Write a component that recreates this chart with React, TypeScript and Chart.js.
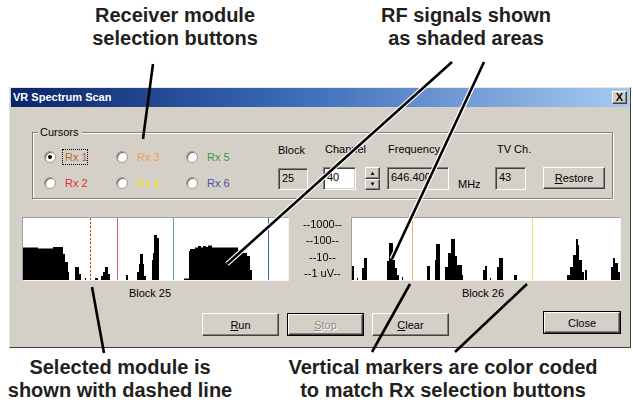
import React, { useEffect, useRef } from "react";
import { Chart, registerables } from "chart.js";

Chart.register(...registerables);

// ---------------- data ----------------
const BLOCK_LABELS = ["Block 25", "Block 26"];
const BLOCK25_SPAN = 265;
const BLOCK26_SPAN = 268;
const NOISE_FLOOR = -8;

// spectrum levels in dBµV, each level holds from its step until the next step
const BLOCK25_STEP = [0, 15, 30, 40, 42, 45, 46, 52, 56, 58, 62, 63, 72, 75, 78, 80, 82, 85, 87, 103, 105, 114, 116, 117, 120, 121, 123, 129, 130, 131, 134, 136, 161, 166, 167, 172, 175, 178, 180, 183, 185, 189, 215, 220, 224, 227, 229, 265];
const BLOCK25_DBUV = [32.4, 31.2, 33.1, 24.5, 14.7, 2.4, NOISE_FLOOR, 8.6, 0, NOISE_FLOOR, -4.9, NOISE_FLOOR, -4.9, NOISE_FLOOR, -2.4, 2.4, 8.6, 0, NOISE_FLOOR, -1.2, NOISE_FLOOR, 2.4, 12.2, 24.5, 12.2, -2.4, NOISE_FLOOR, 17.1, 25.7, 47.8, 44.1, NOISE_FLOOR, -5.5, 28.2, 30.6, 32.4, 34.3, 32.4, 34.3, 33.1, 34.9, 32.4, 29.4, 25.7, 22, 4.9, NOISE_FLOOR, NOISE_FLOOR];

const BLOCK26_STEP = [0, 2, 5, 6, 10, 12, 15, 35, 37, 41, 43, 45, 47, 50, 51, 75, 78, 83, 84, 88, 93, 96, 99, 103, 105, 110, 111, 131, 133, 135, 138, 139, 145, 147, 151, 162, 165, 215, 218, 221, 224, 226, 227, 230, 232, 233, 235, 259, 261, 263, 266, 268];
const BLOCK26_DBUV = [9.8, NOISE_FLOOR, -4.9, NOISE_FLOOR, 7.3, 19.6, NOISE_FLOOR, 15.9, 38, 17.1, 7.3, -1.2, NOISE_FLOOR, -3.7, NOISE_FLOOR, 9.8, NOISE_FLOOR, 17.1, 36.7, NOISE_FLOOR, 8.6, 25.7, 42.9, 22, 11, -1.2, NOISE_FLOOR, 4.9, 9.8, NOISE_FLOOR, -4.9, NOISE_FLOOR, 8.6, 19.6, NOISE_FLOOR, -1.2, NOISE_FLOOR, -1.2, 8.6, 23.3, 42.9, 35.5, 17.1, 2.4, NOISE_FLOOR, 4.9, NOISE_FLOOR, 8.6, 19.6, 13.5, 2.4, 2.4];

const LEVEL_MIN = -7.35;
const LEVEL_MAX = 68.6;
const LEVEL_TICKS = [60, 40, 20, 0];
const LEVEL_TICK_LABELS = ["--1000--", "--100--", "--10--", "--1 uV--"];

const RX_NAMES = ["Rx 1", "Rx 2", "Rx 3", "Rx 4", "Rx 5", "Rx 6"];
const RX_TEXT_COLORS = ["#b8692a", "#e0302c", "#f0a050", "#f2e21a", "#2f9e3c", "#4a52a0"];
const RX_MARKER_COLORS = ["#a8581c", "#e06060", "#f2b070", "#ece070", "#50b070", "#4060b0"];
const SELECTED_RX = 0;

const BLOCK25_MARKER_RX = [0, 1, 4, 5];
const BLOCK25_MARKER_STEP = [66.7, 94, 150, 244.5];
const BLOCK26_MARKER_RX = [2, 3];
const BLOCK26_MARKER_STEP = [59.7, 179.7];

const BLOCK_VALUE = "25";
const CHANNEL_VALUE = "40";
const FREQUENCY_VALUE = "646.400";
const TV_CHANNEL_VALUE = "43";

// ---------------- styles ----------------
const UI_FONT = '"Liberation Sans", Arial, sans-serif';
const FACE = "#d4d0c8";

const abs = (l: number, t: number, w?: number, h?: number): React.CSSProperties => ({
  position: "absolute",
  left: l,
  top: t,
  width: w,
  height: h,
  boxSizing: "border-box",
});

const sunken: React.CSSProperties = {
  borderTop: "1px solid #808080",
  borderLeft: "1px solid #808080",
  borderRight: "1px solid #ffffff",
  borderBottom: "1px solid #ffffff",
  boxShadow: "inset 1px 1px 0 #404040, inset -1px -1px 0 " + FACE,
};

const raised: React.CSSProperties = {
  borderTop: "1px solid #ffffff",
  borderLeft: "1px solid #ffffff",
  borderRight: "1px solid #404040",
  borderBottom: "1px solid #404040",
  boxShadow: "inset -1px -1px 0 #808080",
  background: FACE,
};

function Label({ x, y, children, color, center, size }: any) {
  return (
    <div
      style={{
        position: "absolute",
        left: center ? x - 100 : x,
        top: y - 7,
        width: center ? 200 : undefined,
        textAlign: center ? "center" : "left",
        lineHeight: "14px",
        fontSize: size || 11,
        fontFamily: UI_FONT,
        color: color || "#000",
        whiteSpace: "nowrap",
      }}
    >
      {children}
    </div>
  );
}

function Radio({ cx, cy, checked }: any) {
  return (
    <div
      style={{
        ...abs(cx - 6, cy - 6, 12, 12),
        borderRadius: "50%",
        background: "#fff",
        border: "1px solid #9a9890",
        boxShadow: "inset 1px 1px 0 #6a6864",
      }}
    >
      {checked && (
        <div style={{ ...abs(3, 3, 4, 4), borderRadius: "50%", background: "#000" }} />
      )}
    </div>
  );
}

function Button({ l, t, w, h, label, ul, focus, disabled }: any) {
  const text = (
    <span>
      {ul ? <u>{label[0]}</u> : label[0]}
      {label.slice(1)}
    </span>
  );
  return (
    <div
      style={{
        ...abs(l, t, w, h),
        ...(focus ? { border: "1px solid #000", background: FACE } : {}),
      }}
    >
      <div
        style={{
          ...abs(0, 0, focus ? w - 2 : w, focus ? h - 2 : h),
          ...raised,
          display: "flex",
          alignItems: "center",
          justifyContent: "center",
          fontFamily: UI_FONT,
          fontSize: 11,
          color: disabled ? "#8c8a84" : "#000",
          textShadow: disabled ? "1px 1px 0 #fff" : undefined,
        }}
      >
        {text}
      </div>
    </div>
  );
}

function Field({ l, t, w, h, value, white }: any) {
  return (
    <div
      style={{
        ...abs(l, t, w, h),
        ...sunken,
        background: white ? "#fff" : FACE,
        fontFamily: UI_FONT,
        fontSize: 11,
        paddingLeft: 3,
        paddingTop: 3,
        lineHeight: "12px",
        color: "#000",
      }}
    >
      {value}
    </div>
  );
}

// ---------------- chart ----------------
function Spectrum({ steps, levels, span, markerRx, markerStep, showAxis, left, top, width, height }: any) {
  const ref = useRef<HTMLCanvasElement>(null);
  useEffect(() => {
    const markerPlugin = {
      id: "rxMarkers",
      afterDatasetsDraw(chart: any) {
        const { ctx, chartArea, scales } = chart;
        ctx.save();
        markerStep.forEach((s: number, i: number) => {
          const rx = markerRx[i];
          const x = Math.round(scales.x.getPixelForValue(s)) + 0.5;
          ctx.lineWidth = 1;
          if (rx === SELECTED_RX) {
            ctx.strokeStyle = "#f4cfa0";
            ctx.setLineDash([]);
            ctx.beginPath();
            ctx.moveTo(x, chartArea.top);
            ctx.lineTo(x, chartArea.bottom);
            ctx.stroke();
            ctx.strokeStyle = RX_MARKER_COLORS[rx];
            ctx.setLineDash([2, 2]);
          } else {
            ctx.strokeStyle = RX_MARKER_COLORS[rx];
            ctx.setLineDash([]);
          }
          ctx.beginPath();
          ctx.moveTo(x, chartArea.top);
          ctx.lineTo(x, chartArea.bottom);
          ctx.stroke();
        });
        ctx.restore();
      },
    };
    const chart = new Chart(ref.current as HTMLCanvasElement, {
      type: "line",
      data: {
        datasets: [
          {
            data: steps.map((s: number, i: number) => ({ x: s, y: levels[i] })),
            stepped: true,
            fill: "start",
            backgroundColor: "#000",
            borderColor: "#000",
            borderWidth: 0,
            pointRadius: 0,
          },
        ],
      },
      options: {
        animation: false,
        responsive: false,
        events: [],
        layout: { padding: 0, autoPadding: false },
        plugins: { legend: { display: false }, tooltip: { enabled: false } },
        scales: {
          x: { type: "linear", min: 0, max: span, display: false },
          y: {
            type: "linear",
            min: LEVEL_MIN,
            max: LEVEL_MAX,
            display: showAxis,
            position: "left",
            grid: { display: false, drawTicks: false },
            border: { display: false },
            afterBuildTicks: (s: any) => {
              s.ticks = LEVEL_TICKS.map((v) => ({ value: v }));
            },
            afterFit: (s: any) => {
              if (showAxis) {
                s.width = 56;
                s.paddingTop = 0;
                s.paddingBottom = 0;
              } else {
                s.width = 0;
              }
            },
            ticks: {
              autoSkip: false,
              padding: 10,
              crossAlign: "center",
              color: "#000",
              font: { family: UI_FONT, size: 11 },
              callback: (v: any) => {
                const i = LEVEL_TICKS.indexOf(Number(v));
                return i >= 0 ? LEVEL_TICK_LABELS[i] : "";
              },
            },
          },
        },
      } as any,
      plugins: [markerPlugin],
    });
    return () => chart.destroy();
  }, []);
  return (
    <canvas
      ref={ref}
      width={width}
      height={height}
      style={{ position: "absolute", left, top, width, height }}
    />
  );
}

// ---------------- annotation ----------------
function Note({ cx, cy, lines, size }: any) {
  return (
    <div
      style={{
        position: "absolute",
        left: cx - 250,
        top: cy - 12,
        width: 500,
        textAlign: "center",
        fontFamily: UI_FONT,
        fontWeight: "bold",
        fontSize: size || 20,
        lineHeight: "23px",
        color: "#231f20",
        whiteSpace: "nowrap",
      }}
    >
      {lines.map((l: string, i: number) => (
        <div key={i}>{l}</div>
      ))}
    </div>
  );
}

export default function App() {
  return (
    <div
      style={{
        position: "fixed",
        left: 0,
        top: 0,
        width: 633,
        height: 403,
        background: "#fff",
        overflow: "hidden",
        fontFamily: UI_FONT,
      }}
    >
      {/* dialog */}
      <div
        style={{
          ...abs(9, 87, 622, 261),
          background: FACE,
          borderTop: "1px solid #e8e6e0",
          borderLeft: "1px solid #e8e6e0",
          borderRight: "1px solid #404040",
          borderBottom: "1px solid #404040",
        }}
      />
      <div
        style={{
          ...abs(11, 88, 618, 19),
          background: "linear-gradient(to right, #0a246a, #3a6ab8 45%, #a6caf0)",
        }}
      />
      <div
        style={{
          ...abs(13, 88, 200, 19),
          color: "#fff",
          fontWeight: "bold",
          fontSize: 11,
          lineHeight: "19px",
          fontFamily: UI_FONT,
        }}
      >
        VR Spectrum Scan
      </div>
      <div
        style={{
          ...abs(612, 91, 15, 13),
          ...raised,
          fontSize: 11,
          fontWeight: "bold",
          lineHeight: "11px",
          textAlign: "center",
          fontFamily: UI_FONT,
          color: "#000",
        }}
      >
        X
      </div>

      {/* cursors group */}
      <div
        style={{
          ...abs(32, 132, 581, 67),
          border: "1px solid #808080",
          boxShadow: "1px 1px 0 #fff, inset 1px 1px 0 #fff",
        }}
      />
      <div style={{ ...abs(38, 125, 44, 14), background: FACE }} />
      <Label x={40} y={132}>Cursors</Label>

      {RX_NAMES.map((name, i) => {
        const col = Math.floor(i / 2);
        const row = i % 2;
        const cx = [50, 122, 192][col];
        const cy = [157, 183][row];
        return (
          <React.Fragment key={name}>
            <Radio cx={cx} cy={cy} checked={i === SELECTED_RX} />
            <Label x={cx + 15} y={cy} color={RX_TEXT_COLORS[i]}>
              {name}
            </Label>
            {i === SELECTED_RX && (
              <div style={{ ...abs(cx + 12, cy - 8, 26, 16), border: "1px dotted #000" }} />
            )}
          </React.Fragment>
        );
      })}

      <Label x={278} y={150}>Block</Label>
      <Label x={325} y={149}>Channel</Label>
      <Label x={388} y={149}>Frequency</Label>
      <Label x={497} y={149}>TV Ch.</Label>

      <Field l={278} t={168} w={30} h={22} value={BLOCK_VALUE} />
      <Field l={323} t={167} w={33} h={23} value={CHANNEL_VALUE} white />
      <div style={{ ...abs(365, 167, 15, 12), ...raised, fontSize: 6, lineHeight: "10px", textAlign: "center" }}>▲</div>
      <div style={{ ...abs(365, 179, 15, 11), ...raised, fontSize: 6, lineHeight: "9px", textAlign: "center" }}>▼</div>
      <Field l={387} t={167} w={62} h={23} value={FREQUENCY_VALUE} />
      <Label x={458} y={184}>MHz</Label>
      <Field l={495} t={167} w={31} h={23} value={TV_CHANNEL_VALUE} />
      <Button l={543} t={167} w={62} h={22} label="Restore" ul />

      {/* spectrum panels */}
      <div style={{ ...abs(22, 217, 267, 64), background: "#fff", borderTop: "1px solid #a0a0a0", borderLeft: "1px solid #a0a0a0", borderRight: "1px solid #f4f4f4", borderBottom: "1px solid #f4f4f4" }} />
      <div style={{ ...abs(351, 217, 270, 64), background: "#fff", borderTop: "1px solid #a0a0a0", borderLeft: "1px solid #a0a0a0", borderRight: "1px solid #f4f4f4", borderBottom: "1px solid #f4f4f4" }} />
      <Spectrum
        steps={BLOCK25_STEP}
        levels={BLOCK25_DBUV}
        span={BLOCK25_SPAN}
        markerRx={BLOCK25_MARKER_RX}
        markerStep={BLOCK25_MARKER_STEP}
        showAxis={false}
        left={23}
        top={218}
        width={265}
        height={62}
      />
      <Spectrum
        steps={BLOCK26_STEP}
        levels={BLOCK26_DBUV}
        span={BLOCK26_SPAN}
        markerRx={BLOCK26_MARKER_RX}
        markerStep={BLOCK26_MARKER_STEP}
        showAxis={true}
        left={296}
        top={218}
        width={324}
        height={62}
      />
      <Label x={150} y={293} center>{BLOCK_LABELS[0]}</Label>
      <Label x={483} y={293} center>{BLOCK_LABELS[1]}</Label>

      {/* bottom buttons */}
      <Button l={202} t={313} w={77} h={23} label="Run" ul />
      <Button l={287} t={313} w={77} h={23} label="Stop" ul focus disabled />
      <Button l={372} t={313} w={77} h={23} label="Clear" ul />
      <Button l={543} t={311} w={78} h={23} label="Close" focus />

      {/* annotations */}
      <Note cx={175} cy={16} lines={["Receiver module", "selection buttons"]} />
      <Note cx={466} cy={16} lines={["RF signals shown", "as shaded areas"]} />
      <Note cx={120} cy={368} lines={["Selected module is", "shown with dashed line"]} />
      <Note cx={443} cy={368} lines={["Vertical markers are color coded", "to match Rx selection buttons"]} />

      <svg width={633} height={403} style={{ position: "absolute", left: 0, top: 0, pointerEvents: "none" }}>
        <g strokeLinecap="butt">
          <line x1={153} y1={64} x2={143} y2={139} stroke="#000" strokeWidth={2.6} />
          <line x1={452} y1={62} x2={227} y2={264} stroke="#fff" strokeWidth={5} />
          <line x1={452} y1={62} x2={227} y2={264} stroke="#000" strokeWidth={2.6} />
          <line x1={484} y1={62} x2={392} y2={259} stroke="#fff" strokeWidth={5} />
          <line x1={484} y1={62} x2={392} y2={259} stroke="#000" strokeWidth={2.6} />
          <line x1={92} y1={287} x2={104} y2={353} stroke="#000" strokeWidth={2.6} />
          <line x1={410} y1={284} x2={372} y2={352} stroke="#000" strokeWidth={2.6} />
          <line x1={527} y1={284} x2={455} y2={352} stroke="#000" strokeWidth={2.6} />
        </g>
      </svg>
    </div>
  );
}
